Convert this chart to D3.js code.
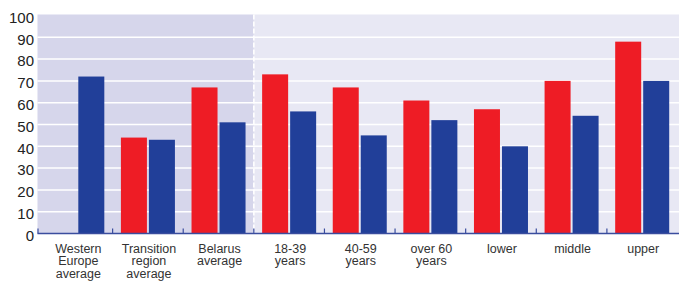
<!DOCTYPE html>
<html>
<head>
<meta charset="utf-8">
<script src="https://cdn.jsdelivr.net/npm/d3@7"></script>
<style>
  body { margin: 0; background: #fff; }
  svg { display: block; font-family: "Liberation Sans", Arial, sans-serif; }
</style>
</head>
<body>
<svg width="679" height="281"></svg>
<script>
// categories and their label lines
var categories = ['Western Europe average', 'Transition region average', 'Belarus average',
                  '18-39 years', '40-59 years', 'over 60 years', 'lower', 'middle', 'upper'];
var labelLines = [['Western', 'Europe', 'average'], ['Transition', 'region', 'average'], ['Belarus', 'average'],
                  ['18-39', 'years'], ['40-59', 'years'], ['over 60', 'years'], ['lower'], ['middle'], ['upper']];

// two series, red and blue (null = no bar)
var series1 = [null, 44, 67, 73, 67, 61, 57, 70, 88];
var series2 = [72, 43, 51, 56, 45, 52, 40, 54, 70];

var yTicks = [0, 10, 20, 30, 40, 50, 60, 70, 80, 90, 100];

var svg = d3.select('svg');

var plotLeft = 37.5, plotRight = 679, y0 = 233.5;

var x = d3.scaleBand().domain(categories).range([42, 677.5]);
var bw = x.bandwidth();
var x1 = d3.scaleBand().domain(['s1', 's2']).range([8.3, bw - 8.3]).paddingInner(0.0714);
var y = d3.scaleLinear().domain([0, 100]).range([y0, y0 - 218]);

var split = x('18-39 years');

// backgrounds
svg.append('rect')
  .attr('x', plotLeft).attr('y', y(100) - 1)
  .attr('width', split - plotLeft).attr('height', y0 - y(100) + 1)
  .attr('fill', '#d6d6eb');
svg.append('rect')
  .attr('x', split).attr('y', y(100) - 1)
  .attr('width', plotRight - split).attr('height', y0 - y(100) + 1)
  .attr('fill', '#e8e8f4');

// gridlines
svg.selectAll('line.grid')
  .data(yTicks.filter(function(d){ return d > 0 && d < 100; }))
  .enter().append('line')
  .attr('class', 'grid')
  .attr('x1', plotLeft).attr('x2', plotRight)
  .attr('y1', function(d){ return y(d); }).attr('y2', function(d){ return y(d); })
  .attr('stroke', '#fff').attr('stroke-width', 1.5);

// dashed separator
svg.append('line')
  .attr('x1', split).attr('x2', split)
  .attr('y1', y(100) - 1).attr('y2', y0)
  .attr('stroke', '#fff').attr('stroke-width', 1.6)
  .attr('stroke-dasharray', '5,2');

// bars
var rows = categories.map(function(c, i){ return { cat: c, s1: series1[i], s2: series2[i] }; });
var groups = svg.selectAll('g.cat').data(rows).enter().append('g')
  .attr('transform', function(d){ return 'translate(' + x(d.cat) + ',0)'; });

groups.filter(function(d){ return d.s1 != null; }).append('rect')
  .attr('x', x1('s1')).attr('width', x1.bandwidth())
  .attr('y', function(d){ return y(d.s1); })
  .attr('height', function(d){ return y0 - y(d.s1); })
  .attr('fill', '#ee1c25');

groups.append('rect')
  .attr('x', x1('s2')).attr('width', x1.bandwidth())
  .attr('y', function(d){ return y(d.s2); })
  .attr('height', function(d){ return y0 - y(d.s2); })
  .attr('fill', '#213f99');

// baseline + ticks
svg.append('line')
  .attr('x1', plotLeft).attr('x2', plotRight)
  .attr('y1', y0).attr('y2', y0)
  .attr('stroke', '#3a4d9e').attr('stroke-width', 1.5);

var tickXs = [plotLeft + 0.5].concat(categories.slice(1).map(function(c){ return x(c); }));
svg.selectAll('line.tick')
  .data(tickXs).enter().append('line')
  .attr('x1', function(d){ return d; }).attr('x2', function(d){ return d; })
  .attr('y1', y0).attr('y2', y0 - 5)
  .attr('stroke', '#3a4d9e').attr('stroke-width', 1.2);

// y axis labels
var yAxis = d3.axisLeft(y).tickValues(yTicks).tickSize(0).tickPadding(0);
var ya = svg.append('g').attr('transform', 'translate(34,2)').call(yAxis);
ya.select('.domain').remove();
ya.selectAll('text')
  .attr('font-size', 15).attr('fill', '#222')
  .attr('font-family', '"Liberation Sans", Arial, sans-serif');

// category labels
groups.append('text')
  .attr('x', bw / 2 + 1)
  .attr('y', 252.5)
  .attr('text-anchor', 'middle')
  .attr('font-size', 12.5)
  .attr('fill', '#333')
  .each(function(d, i){
    var t = d3.select(this);
    labelLines[i].forEach(function(line, j){
      t.append('tspan').attr('x', bw / 2 + 1).attr('dy', j === 0 ? 0 : 12.5).text(line);
    });
  });
</script>
</body>
</html>
